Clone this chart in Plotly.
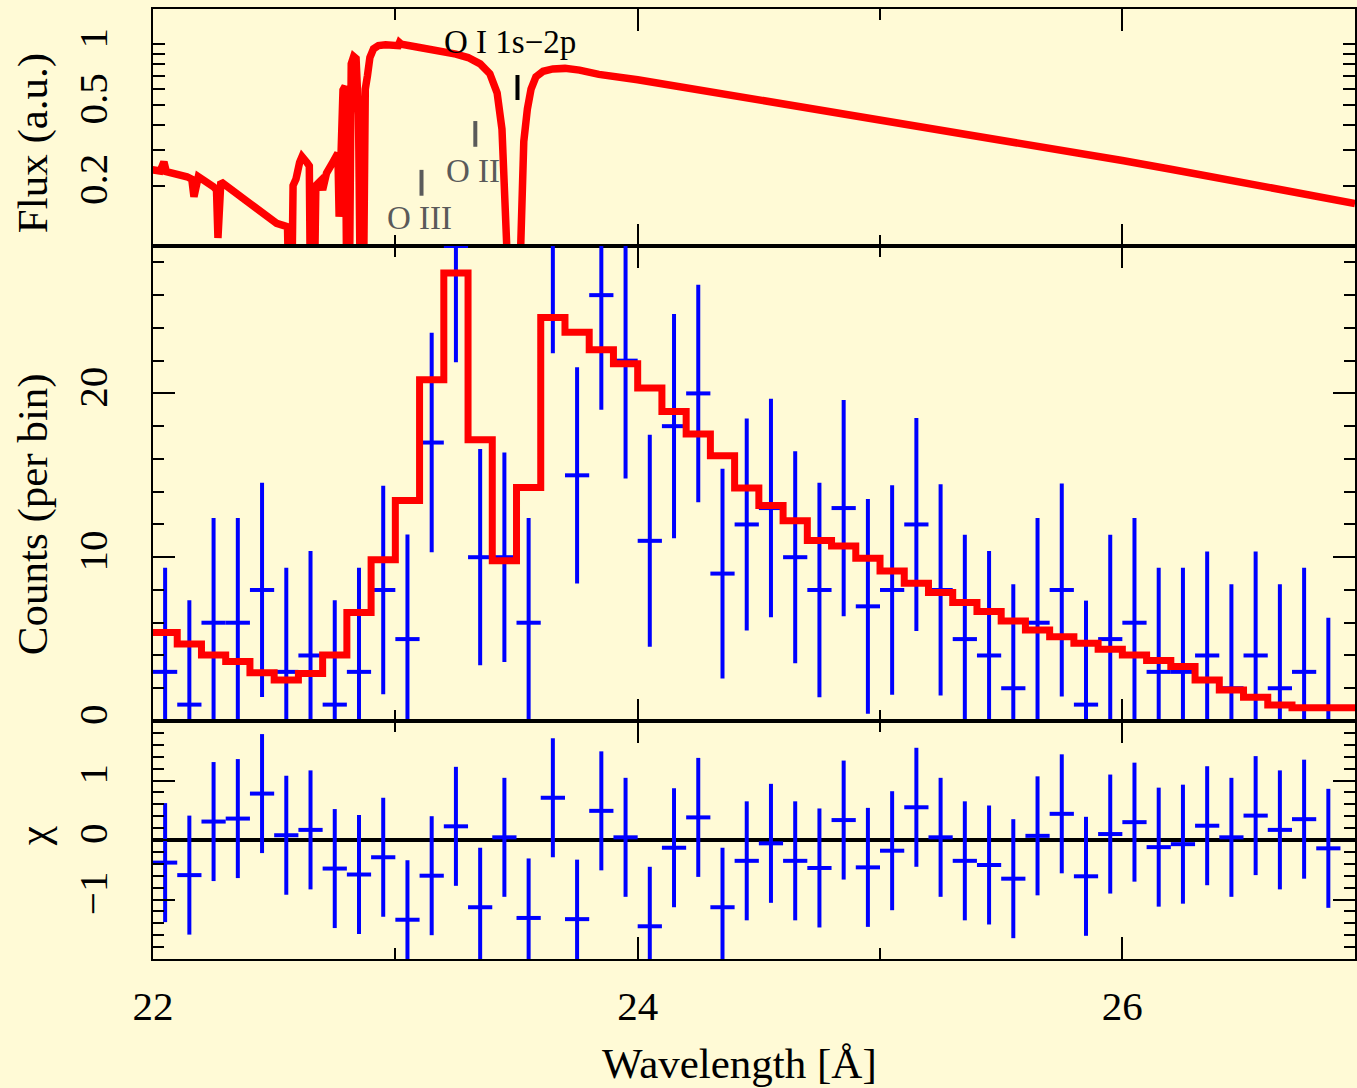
import math
import plotly.graph_objects as go
from plotly.subplots import make_subplots

# ---------------- data ----------------
bin_wl = [22.05, 22.15, 22.25, 22.35, 22.45, 22.55, 22.65, 22.75, 22.85, 22.95,
          23.05, 23.15, 23.25, 23.35, 23.45, 23.55, 23.65, 23.75, 23.85, 23.95,
          24.05, 24.15, 24.25, 24.35, 24.45, 24.55, 24.65, 24.75, 24.85, 24.95,
          25.05, 25.15, 25.25, 25.35, 25.45, 25.55, 25.65, 25.75, 25.85, 25.95,
          26.05, 26.15, 26.25, 26.35, 26.45, 26.55, 26.65, 26.75, 26.85]
bin_halfwidth = 0.05

counts = [3, 1, 6, 6, 8, 3, 4, 1, 3, 8,
          5, 17, 29, 10, 10, 6, 29.5, 15, 26, 22,
          11, 18, 20, 9, 12, 13, 10, 8, 13, 7,
          8, 12, 8, 5, 4, 2, 6, 8, 1, 5,
          6, 3, 3, 4, 2, 4, 2, 3, 0]
count_err = [6.36, 6.37, 6.4, 6.4, 6.54, 6.36, 6.38, 6.37, 6.36, 6.36,
             6.39, 6.7, 7.1, 6.6, 6.4, 6.4, 7.05, 6.6, 7.0, 7.2,
             6.47, 6.85, 6.64, 6.4, 6.47, 6.67, 6.47, 6.55, 6.6, 6.55,
             6.4, 6.5, 6.45, 6.37, 6.38, 6.35, 6.4, 6.5, 6.35, 6.37,
             6.4, 6.35, 6.35, 6.35, 6.35, 6.35, 6.35, 6.35, 6.31]

model_wl = bin_wl + [26.95]
model_counts = [5.40, 4.70, 4.03, 3.63, 2.95, 2.50, 2.90, 4.03, 6.62, 9.84,
                13.46, 20.83, 27.35, 17.17, 9.78, 14.26, 24.64, 23.73, 22.67, 21.81,
                20.33, 18.90, 17.52, 16.19, 14.22, 13.16, 12.22, 11.02, 10.69, 9.94,
                9.16, 8.41, 7.85, 7.23, 6.68, 6.11, 5.56, 5.15, 4.75, 4.38,
                4.03, 3.69, 3.32, 2.50, 1.89, 1.45, 0.98, 0.81, 0.81, 0.81]

chi = [-0.38, -0.59, 0.31, 0.36, 0.78, 0.08, 0.17, -0.48, -0.58, -0.29,
       -1.34, -0.60, 0.23, -1.13, 0.045, -1.31, 0.71, -1.33, 0.49, 0.045,
       -1.45, -0.13, 0.38, -1.13, -0.35, -0.056, -0.35, -0.47, 0.335, -0.46,
       -0.18, 0.55, 0.045, -0.35, -0.42, -0.65, 0.07, 0.44, -0.61, 0.10,
       0.30, -0.12, -0.07, 0.24, 0.045, 0.41, 0.17, 0.35, -0.14]
chi_err = 1.0

flux_wl = [21.99, 22.03, 22.045, 22.055, 22.14, 22.16, 22.169, 22.178, 22.187, 22.25,
           22.262, 22.268, 22.274, 22.28, 22.40, 22.51, 22.537, 22.555, 22.562, 22.572,
           22.578, 22.59, 22.605, 22.615, 22.635, 22.645, 22.65, 22.665, 22.672, 22.69,
           22.70, 22.716, 22.743, 22.763, 22.768, 22.774, 22.784, 22.793, 22.80, 22.81,
           22.818, 22.828, 22.838, 22.848, 22.856, 22.868, 22.876, 22.885, 22.895, 22.91,
           22.93, 22.96, 23.0, 23.012, 23.017, 23.025, 23.1, 23.18, 23.25, 23.30,
           23.35, 23.39, 23.42, 23.44, 23.452, 23.461, 23.47, 23.51, 23.519, 23.524,
           23.53, 23.545, 23.56, 23.58, 23.61, 23.65, 23.70, 23.76, 23.84, 24.0,
           24.2, 24.4, 24.6, 24.8, 25.0, 25.2, 25.4, 25.6, 25.8, 26.0,
           26.2, 26.4, 26.6, 26.8, 26.96]
flux = [0.240, 0.236, 0.262, 0.234, 0.221, 0.215, 0.176, 0.215, 0.221, 0.197,
        0.190, 0.11, 0.19, 0.209, 0.163, 0.130, 0.127, 0.125, 0.05, 0.05,
        0.20, 0.215, 0.26, 0.278, 0.26, 0.25, 0.05, 0.05, 0.20, 0.21,
        0.19, 0.23, 0.262, 0.289, 0.14, 0.30, 0.594, 0.62, 0.05, 0.05,
        0.80, 0.87, 0.85, 0.45, 0.05, 0.05, 0.60, 0.70, 0.86, 0.95,
        0.985, 0.995, 0.99, 0.985, 1.02, 1.0, 0.964, 0.935, 0.895, 0.86,
        0.80, 0.715, 0.575, 0.38, 0.213, 0.1, 0.05, 0.05, 0.1, 0.2,
        0.33, 0.48, 0.60, 0.69, 0.735, 0.755, 0.76, 0.745, 0.71, 0.668,
        0.610, 0.560, 0.512, 0.468, 0.427, 0.389, 0.354, 0.322, 0.293, 0.266,
        0.2406, 0.218, 0.1966, 0.178, 0.163]

line_ids = ["O III", "O II", "O I 1s\u22122p"]
line_wl = [23.108, 23.33, 23.504]
line_mark_lo = [0.178, 0.311, 0.530]
line_mark_hi = [0.239, 0.417, 0.705]
line_label_wl = [23.10, 23.322, 23.475]
line_label_flux = [0.138, 0.236, 1.027]
line_colors = ["#5a5a5a", "#5a5a5a", "black"]

# ---------------- styling ----------------
BG = "#FFFAD6"
FONT = "Liberation Serif"
X_RANGE = [22.0, 26.96]


def err_segments(xc, yc, lo, hi, hw):
    xs, ys = [], []
    for x, y, l, h in zip(xc, yc, lo, hi):
        xs += [x - hw, x + hw, None, x, x, None]
        ys += [y, y, None, l, h, None]
    return xs, ys


fig = make_subplots(rows=3, cols=1, shared_xaxes=True, vertical_spacing=0,
                    row_heights=[237, 475, 238])

# ---- top panel: flux model ----
fig.add_trace(go.Scatter(x=flux_wl, y=flux, mode="lines",
                         line=dict(color="#FF0000", width=7.5),
                         hoverinfo="skip", showlegend=False), row=1, col=1)
for wl, lo, hi, col in zip(line_wl, line_mark_lo, line_mark_hi, line_colors):
    fig.add_trace(go.Scatter(x=[wl, wl], y=[lo, hi], mode="lines",
                             line=dict(color=col, width=4),
                             hoverinfo="skip", showlegend=False), row=1, col=1)

# ---- middle panel: counts ----
lo = [c - e for c, e in zip(counts, count_err)]
hi = [c + e for c, e in zip(counts, count_err)]
ex, ey = err_segments(bin_wl, counts, lo, hi, bin_halfwidth)
fig.add_trace(go.Scatter(x=ex, y=ey, mode="lines",
                         line=dict(color="#0000FF", width=4),
                         hoverinfo="skip", showlegend=False), row=2, col=1)
step_x = [w - bin_halfwidth for w in model_wl] + [model_wl[-1] + bin_halfwidth]
step_y = model_counts + [model_counts[-1]]
fig.add_trace(go.Scatter(x=step_x, y=step_y, mode="lines", line_shape="hv",
                         line=dict(color="#FF0000", width=7),
                         hoverinfo="skip", showlegend=False), row=2, col=1)

# ---- bottom panel: residuals ----
clo = [c - chi_err for c in chi]
chi_hi = [c + chi_err for c in chi]
rx, ry = err_segments(bin_wl, chi, clo, chi_hi, bin_halfwidth)
fig.add_trace(go.Scatter(x=rx, y=ry, mode="lines",
                         line=dict(color="#0000FF", width=4),
                         hoverinfo="skip", showlegend=False), row=3, col=1)

tickfont = dict(family=FONT, size=41, color="black")

xcommon = dict(range=X_RANGE, showline=True, linecolor="black", linewidth=2,
               mirror="ticks", ticks="inside", tickvals=[22, 24, 26], ticklen=22,
               tickwidth=2, tickcolor="black",
               minor=dict(tickvals=[23, 25], ticklen=11, tickwidth=2,
                          tickcolor="black", ticks="inside"),
               showgrid=False, zeroline=False, tickfont=tickfont)
fig.update_xaxes(**xcommon)
fig.update_xaxes(showticklabels=False, row=1, col=1)
fig.update_xaxes(showticklabels=False, row=2, col=1)
fig.update_xaxes(showticklabels=True, ticklabelstandoff=10, row=3, col=1)

ycommon = dict(showline=True, linecolor="black", linewidth=2, mirror="ticks",
               ticks="inside", tickwidth=2, tickcolor="black", showgrid=False,
               zeroline=False, tickfont=tickfont, tickangle=-90,
               ticklabelstandoff=28)
fig.update_yaxes(**ycommon)
fig.update_yaxes(type="log", range=[-0.9985, 0.1748], tickvals=[0.2, 0.5, 1],
                 ticktext=["0.2", "0.5", "1"], ticklen=12,
                 minor=dict(tickvals=[0.1, 0.3, 0.4, 0.6, 0.7, 0.8, 0.9],
                            ticklen=12, tickwidth=2, tickcolor="black",
                            ticks="inside"),
                 row=1, col=1)
fig.update_yaxes(range=[0, 29.0], tickvals=[0, 10, 20], ticklen=22,
                 minor=dict(dtick=2, ticklen=11, tickwidth=2,
                            tickcolor="black", ticks="inside"),
                 row=2, col=1)
fig.update_yaxes(range=[-2, 2], tickvals=[-1, 0, 1], ticklen=22,
                 minor=dict(dtick=0.2, ticklen=11, tickwidth=2,
                            tickcolor="black", ticks="inside"),
                 row=3, col=1)

# longer decade tick at flux = 1 (log10 units for shapes on log axis)
fig.add_shape(type="line", xref="x domain", yref="y", x0=0, x1=22 / 1204,
              y0=0, y1=0, line=dict(color="black", width=2))
fig.add_shape(type="line", xref="x domain", yref="y", x0=1 - 22 / 1204, x1=1,
              y0=0, y1=0, line=dict(color="black", width=2))
# zero line of residual panel
fig.add_shape(type="line", xref="x3 domain", yref="y3", x0=0, x1=1,
              y0=0, y1=0, line=dict(color="black", width=4), layer="below")

# line identification labels
for name, wl, fl, col in zip(line_ids, line_label_wl, line_label_flux, line_colors):
    fig.add_annotation(x=wl, y=math.log10(fl), xref="x", yref="y", text=name,
                       showarrow=False, font=dict(family=FONT, size=33, color=col),
                       xanchor="center", yanchor="middle")

# axis titles as annotations
titlefont = dict(family=FONT, size=43, color="black")
W_PLOT, H_PLOT = 1204, 950


def px_paper(px, py):
    return (px - 153) / W_PLOT, (959 - py) / H_PLOT


for text, (px, py) in [("Flux (a.u.)", (33, 143)),
                       ("Counts (per bin)", (33, 514)),
                       ("\u03c7", (33, 836))]:
    xp, yp = px_paper(px, py)
    fig.add_annotation(x=xp, y=yp, xref="paper", yref="paper", text=text,
                       textangle=-90, showarrow=False, font=titlefont,
                       xanchor="center", yanchor="middle")
xp, yp = px_paper(740, 1063)
fig.add_annotation(x=xp, y=yp, xref="paper", yref="paper", text="Wavelength [\u00c5]",
                   showarrow=False, font=titlefont, xanchor="center", yanchor="middle")

fig.update_layout(width=1357, height=1088,
                  margin=dict(l=153, r=0, t=9, b=129),
                  paper_bgcolor=BG, plot_bgcolor=BG,
                  font=dict(family=FONT, color="black"),
                  showlegend=False)

fig.write_html("out.html")
